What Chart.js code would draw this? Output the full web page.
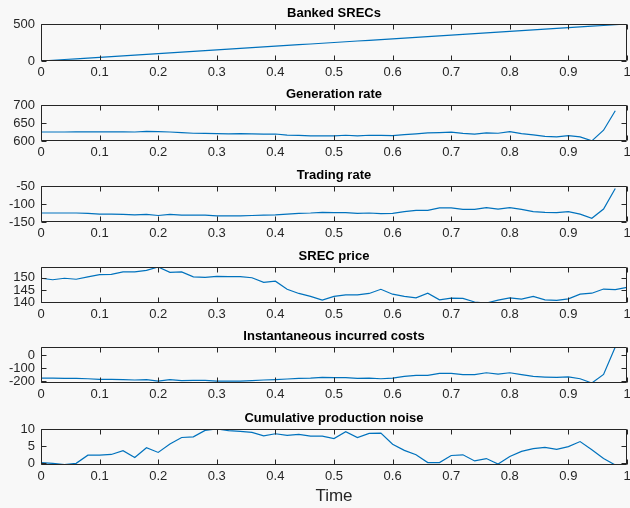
<!DOCTYPE html>
<html>
<head>
<meta charset="utf-8">
<script src="https://cdn.jsdelivr.net/npm/chart.js@4"></script>
<style>
  html, body { margin: 0; padding: 0; background: #f8f8f8; width: 630px; height: 508px; overflow: hidden; }
  #fig { position: relative; width: 630px; height: 508px; }
  #fig canvas { position: absolute; left: 0; }
</style>
</head>
<body>
<div id="fig"></div>
<script>
// Time grid (sample instants)
const time = [0, 0.02, 0.04, 0.06, 0.08, 0.1, 0.12, 0.14, 0.16, 0.18,
              0.2, 0.22, 0.24, 0.26, 0.28, 0.3, 0.32, 0.34, 0.36, 0.38,
              0.4, 0.42, 0.44, 0.46, 0.48, 0.5, 0.52, 0.54, 0.56, 0.58,
              0.6, 0.62, 0.64, 0.66, 0.68, 0.7, 0.72, 0.74, 0.76, 0.78,
              0.8, 0.82, 0.84, 0.86, 0.88, 0.9, 0.92, 0.94, 0.96, 0.98, 1];

const bankedSRECs = [0, 10, 20, 30, 40, 50, 60, 70, 80, 90,
                     100, 110, 120, 130, 140, 150, 160, 170, 180, 190,
                     200, 210, 220, 230, 240, 250, 260, 270, 280, 290,
                     300, 310, 320, 330, 340, 350, 360, 370, 380, 390,
                     400, 410, 420, 430, 440, 450, 460, 470, 480, 490, 500];

const generationRate = [625, 625, 625, 625.5, 625.5, 625.5, 625.5, 625.5, 625, 626.5,
                        626, 625, 623, 621.5, 621, 620.5, 620, 620.5, 620, 619,
                        619.5, 616.5, 615.5, 614.5, 614, 614.5, 616, 614, 616, 615.5,
                        615, 617.5, 620, 622.5, 623.5, 624.5, 621, 619, 622.5, 621.5,
                        626, 620.5, 617, 613, 611.5, 615, 611.5, 600.5, 630, 684];

const tradingRate = [-125, -125, -125, -125, -126, -128, -128, -129, -130, -129,
                     -132, -129, -131, -131, -131, -133, -133, -133, -132, -131,
                     -130, -128, -126, -125, -123, -124, -124, -126, -125, -127,
                     -126, -121, -117.5, -117.5, -111, -111, -115, -115, -110, -114,
                     -110, -115, -121, -123, -124, -121, -128, -139.5, -114, -57];

const srecPrice = [149.8, 149.2, 149.8, 149.4, 150.4, 151.3, 151.4, 152.4, 152.4, 153.0,
                   154.4, 152.2, 152.4, 150.4, 150.2, 150.6, 150.5, 150.5, 150.0, 148.1,
                   148.6, 145.3, 143.6, 142.4, 140.9, 142.4, 143.0, 143.0, 143.6, 145.3,
                   143.3, 142.4, 141.8, 143.7, 141.0, 141.7, 141.6, 140.1, 139.7, 140.9,
                   141.8, 141.3, 142.4, 141.0, 140.8, 141.4, 143.3, 143.7, 145.4, 145.2, 146.1];

const incurredCosts = [-177, -177, -179, -179, -182, -187, -187, -189, -192, -189,
                       -200, -189, -197, -195, -195, -200, -200, -200, -197, -192,
                       -189, -184, -179, -177, -172, -174, -174, -179, -177, -182,
                       -177, -164, -156, -156, -141, -141, -151, -151, -136, -146,
                       -136, -151, -164, -169, -172, -167, -182, -215, -149, 63];

const productionNoise = [0.1, -0.1, -0.5, -0.1, 2.3, 2.3, 2.5, 3.6, 1.6, 4.5,
                         3.1, 5.6, 7.5, 7.7, 9.6, 10.0, 9.5, 9.3, 9.0, 8.0,
                         8.6, 8.1, 8.4, 7.9, 7.9, 7.2, 9.2, 7.5, 8.7, 8.8,
                         5.5, 3.7, 2.4, 0.1, 0.1, 2.2, 2.4, 0.6, 1.3, -0.3,
                         1.9, 3.4, 4.2, 4.6, 4.0, 4.8, 6.3, 3.9, 1.3, -0.6];

// Tick positions
const xTicks = [0, 0.1, 0.2, 0.3, 0.4, 0.5, 0.6, 0.7, 0.8, 0.9, 1];
const bankedTicks = [0, 500];
const generationTicks = [600, 650, 700];
const tradingTicks = [-150, -100, -50];
const priceTicks = [140, 145, 150];
const costTicks = [-200, -100, 0];
const noiseTicks = [0, 5, 10];

const panels = [
  { title: 'Banked SRECs', values: bankedSRECs, yMin: 0, yMax: 500, yTicks: bankedTicks, top: 24, bottom: 61 },
  { title: 'Generation rate', values: generationRate, yMin: 600, yMax: 700, yTicks: generationTicks, top: 105, bottom: 141 },
  { title: 'Trading rate', values: tradingRate, yMin: -150, yMax: -50, yTicks: tradingTicks, top: 186, bottom: 222 },
  { title: 'SREC price', values: srecPrice, yMin: Math.min(...srecPrice), yMax: Math.max(...srecPrice), yTicks: priceTicks, top: 267, bottom: 303 },
  { title: 'Instantaneous incurred costs', values: incurredCosts, yMin: Math.min(...incurredCosts), yMax: Math.max(...incurredCosts), yTicks: costTicks, top: 347, bottom: 383 },
  { title: 'Cumulative production noise', values: productionNoise, yMin: Math.min(...productionNoise), yMax: Math.max(...productionNoise), yTicks: noiseTicks, top: 429, bottom: 465, xTitle: 'Time' }
];

const FONT = "'Liberation Sans', Arial, Helvetica, sans-serif";
const AXIS_COLOR = '#262626';
const LINE_COLOR = '#0072BD';
const TITLE_H = 19;      // title line height + bottom padding
const Y_AXIS_W = 41;
const TICK_LEN = 5;

// Box around the plot area with inward tick marks on all four sides
const framePlugin = {
  id: 'frame',
  afterDraw(chart) {
    const { ctx, chartArea, scales } = chart;
    const L = Math.round(chartArea.left) + 0.5;
    const R = Math.round(chartArea.right) - 0.5;
    const T = Math.round(chartArea.top) + 0.5;
    const B = Math.round(chartArea.bottom) - 0.5;
    ctx.save();
    ctx.strokeStyle = AXIS_COLOR;
    ctx.lineWidth = 1;
    ctx.beginPath();
    ctx.rect(L, T, R - L, B - T);
    scales.x.ticks.forEach(t => {
      const px = Math.round(scales.x.getPixelForValue(t.value)) + 0.5;
      ctx.moveTo(px, B); ctx.lineTo(px, B - TICK_LEN);
      ctx.moveTo(px, T); ctx.lineTo(px, T + TICK_LEN);
    });
    scales.y.ticks.forEach(t => {
      const py = Math.round(scales.y.getPixelForValue(t.value)) + 0.5;
      ctx.moveTo(L, py); ctx.lineTo(L + TICK_LEN, py);
      ctx.moveTo(R, py); ctx.lineTo(R - TICK_LEN, py);
    });
    ctx.stroke();
    ctx.restore();
  }
};

const fig = document.getElementById('fig');

panels.forEach(p => {
  const xAxisH = p.xTitle ? 42 : 22;
  const canvas = document.createElement('canvas');
  const h = TITLE_H + (p.bottom - p.top) + xAxisH;
  canvas.width = 630;
  canvas.height = h;
  canvas.style.top = (p.top - TITLE_H) + 'px';
  canvas.style.width = '630px';
  canvas.style.height = h + 'px';
  fig.appendChild(canvas);

  new Chart(canvas, {
    type: 'line',
    data: {
      datasets: [{
        data: p.values.map((v, i) => ({ x: time[i], y: v })),
        borderColor: LINE_COLOR,
        borderWidth: 1.2,
        pointRadius: 0,
        tension: 0,
        fill: false
      }]
    },
    options: {
      responsive: false,
      animation: false,
      devicePixelRatio: 1,
      events: [],
      layout: { padding: { left: 0, right: 3, top: 0, bottom: 0 } },
      plugins: {
        legend: { display: false },
        tooltip: { enabled: false },
        title: {
          display: true,
          fullSize: false,
          text: p.title,
          color: '#000000',
          font: { family: FONT, size: 13, weight: 'bold', lineHeight: '16px' },
          padding: { top: 0, bottom: 3 }
        }
      },
      scales: {
        x: {
          type: 'linear',
          min: 0,
          max: 1,
          grid: { display: false, drawTicks: false },
          border: { display: false },
          ticks: {
            padding: 4,
            color: AXIS_COLOR,
            autoSkip: false,
            maxRotation: 0,
            font: { family: FONT, size: 13 },
            callback: v => String(v)
          },
          afterBuildTicks: s => { s.ticks = xTicks.map(v => ({ value: v })); },
          afterFit: s => { s.height = xAxisH; s.paddingLeft = 0; s.paddingRight = 0; },
          title: p.xTitle ? {
            display: true,
            text: p.xTitle,
            color: AXIS_COLOR,
            font: { family: FONT, size: 17 },
            padding: { top: 0, bottom: 0 }
          } : { display: false }
        },
        y: {
          type: 'linear',
          min: p.yMin,
          max: p.yMax,
          grid: { display: false, drawTicks: false },
          border: { display: false },
          ticks: {
            padding: 6,
            color: AXIS_COLOR,
            autoSkip: false,
            font: { family: FONT, size: 13 },
            callback: v => String(v)
          },
          afterBuildTicks: s => { s.ticks = p.yTicks.map(v => ({ value: v })); },
          afterFit: s => { s.width = Y_AXIS_W; s.paddingTop = 0; s.paddingBottom = 0; }
        }
      }
    },
    plugins: [framePlugin]
  });
});
</script>
</body>
</html>
